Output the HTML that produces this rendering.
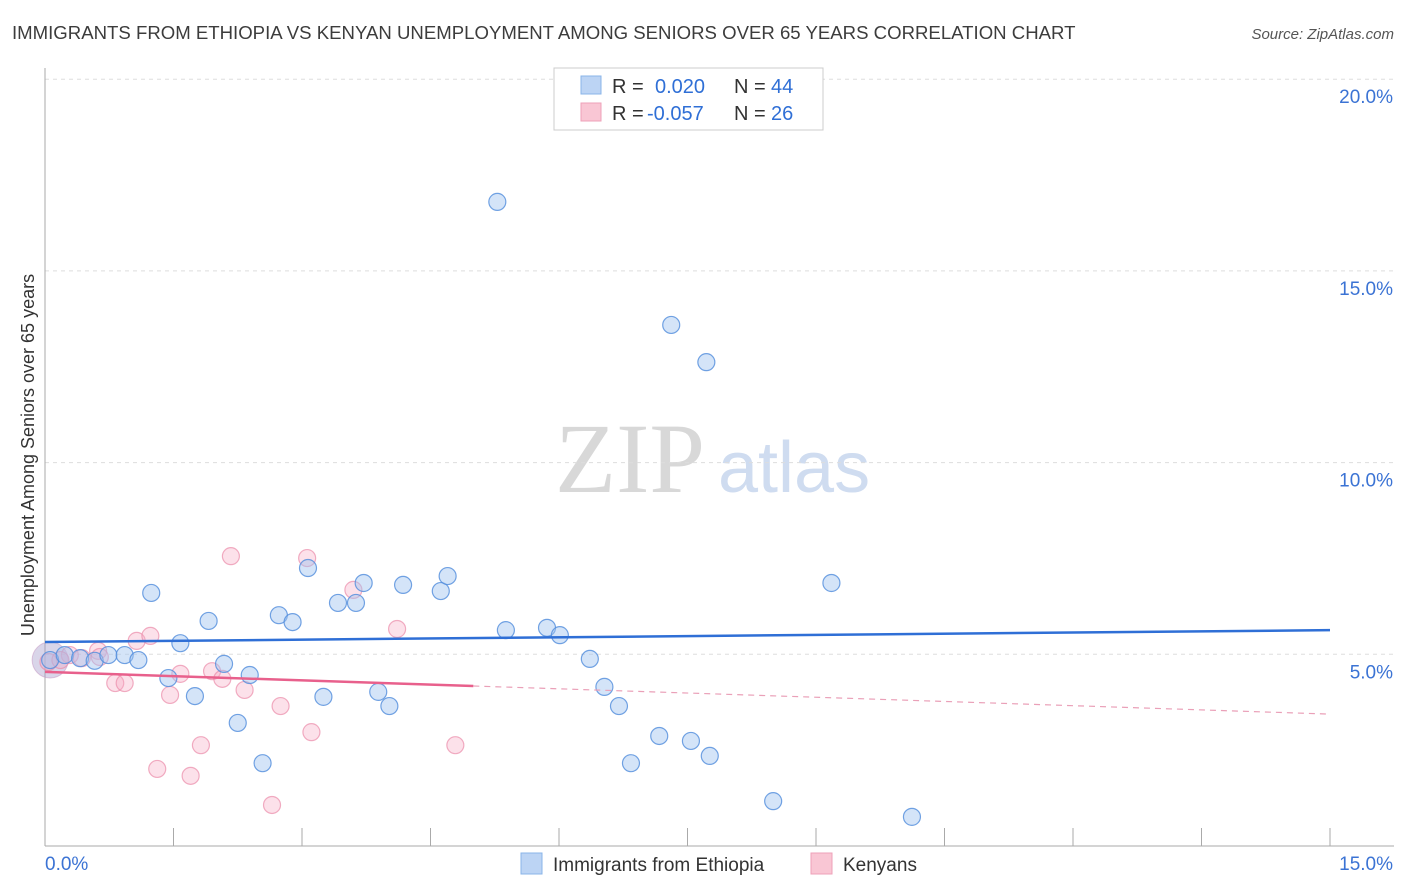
<!DOCTYPE html>
<html><head><meta charset="utf-8"><style>
body{margin:0;background:#fff;font-family:"Liberation Sans",sans-serif;}
svg{display:block}
</style></head><body>
<svg id="c" width="1406" height="892">
<text x="12" y="39" font-size="18.6" fill="#3c3c3c">IMMIGRANTS FROM ETHIOPIA VS KENYAN UNEMPLOYMENT AMONG SENIORS OVER 65 YEARS CORRELATION CHART</text>
<text x="1394" y="39" font-size="15" fill="#555" font-style="italic" text-anchor="end">Source: ZipAtlas.com</text>
<text x="555" y="492" font-size="100" fill="#d8d8d8" font-family="Liberation Serif,serif">ZIP</text>
<text x="718" y="492" font-size="72" fill="#cfdcf0">atlas</text>
<text transform="translate(34,455) rotate(-90)" font-size="18" fill="#333" text-anchor="middle">Unemployment Among Seniors over 65 years</text>
<g id="grid"></g><g id="marks"></g>
<g>
<rect x="554" y="68" width="269" height="62" fill="#fff" stroke="#ccc"/>
<rect x="581" y="76" width="20" height="18" fill="#bcd4f4" stroke="#8ab4e8"/>
<rect x="581" y="103" width="20" height="18" fill="#f9c6d4" stroke="#eea0b8"/>
<g font-size="20" fill="#333">
<text x="612" y="93">R =</text><text x="655" y="93" fill="#2f6fd6">0.020</text>
<text x="734" y="93">N =</text><text x="771" y="93" fill="#2f6fd6">44</text>
<text x="612" y="120">R =</text><text x="647" y="120" fill="#2f6fd6">-0.057</text>
<text x="734" y="120">N =</text><text x="771" y="120" fill="#2f6fd6">26</text>
</g>
</g>
<g>
<rect x="521" y="853" width="21" height="21" fill="#bcd4f4" stroke="#8ab4e8"/>
<text x="553" y="871" font-size="19" fill="#333">Immigrants from Ethiopia</text>
<rect x="811" y="853" width="21" height="21" fill="#f9c6d4" stroke="#eea0b8"/>
<text x="843" y="871" font-size="19" fill="#333">Kenyans</text>
</g>
</svg>
<script>
const blueX=[0.06,0.23,0.41,0.58,0.74,0.93,1.09,1.24,1.44,1.58,1.75,1.91,2.09,2.25,2.39,2.54,2.73,2.89,3.07,3.25,3.42,3.63,3.72,3.89,4.02,4.18,4.62,4.70,5.28,5.38,5.86,6.01,6.36,6.53,6.70,6.84,7.17,7.31,7.54,7.72,7.76,8.50,9.18,10.12];
const blueY=[4.85,4.98,4.90,4.83,4.98,4.98,4.85,6.60,4.38,5.29,3.91,5.87,4.75,3.21,4.46,2.16,6.02,5.84,7.25,3.89,6.34,6.34,6.86,4.02,3.65,6.81,6.65,7.04,16.80,5.63,5.69,5.50,4.88,4.15,3.65,2.16,2.87,13.59,2.74,12.62,2.35,1.17,6.86,0.76];
const pinkX=[0.04,0.29,0.43,0.62,0.82,0.93,1.07,1.23,1.31,1.46,1.58,1.70,1.82,1.95,2.07,2.17,2.33,2.65,2.75,3.06,3.11,3.60,4.11,4.79,0.64,0.18];
const pinkY=[4.80,4.98,4.90,5.09,4.25,4.25,5.35,5.48,2.01,3.94,4.49,1.83,2.63,4.56,4.36,7.56,4.07,1.07,3.65,7.51,2.97,6.68,5.66,2.63,4.93,4.85];
const blueTrend=[5.32,5.63];
const pinkTrend=[4.54,3.44];
const pinkSolidEnd=5.0;
const xTicks=[0,1.5,3,4.5,6,7.5,9,10.5,12,13.5,15];
const yTicks=[5,10,15,20];
const yTickLabels=["5.0%","10.0%","15.0%","20.0%"];
const sx=v=>45+v/15*1285, sy=v=>846-v/5*191.7;
const NS="http://www.w3.org/2000/svg";
function mk(t,a,p){const e=document.createElementNS(NS,t);for(const k in a)e.setAttribute(k,a[k]);p.appendChild(e);return e;}
const g=document.getElementById('grid'),m=document.getElementById('marks');
yTicks.forEach((v,i)=>{
const l=mk('line',{x1:45,x2:1394,y1:sy(v),y2:sy(v),stroke:'#ddd','stroke-dasharray':'4,4'},g);


const t=mk('text',{x:1393,y:sy(v)+24,'font-size':19,fill:'#3b73d4','text-anchor':'end'},g);t.textContent=yTickLabels[i];


});
mk('line',{x1:45,x2:45,y1:68,y2:846,stroke:'#aaa'},g);
mk('line',{x1:45,x2:1394,y1:846,y2:846,stroke:'#aaa'},g);
xTicks.forEach(v=>{const l=mk('line',{x1:sx(v),x2:sx(v),y1:828,y2:846,stroke:'#aaa'},g);

});
let t=mk('text',{x:45,y:870,'font-size':19,fill:'#3b73d4'},g);t.textContent='0.0%';
t=mk('text',{x:1393,y:870,'font-size':19,fill:'#3b73d4','text-anchor':'end'},g);t.textContent='15.0%';
let bc=mk('circle',{cx:sx(blueX[0]),cy:sy(blueY[0]),r:18,fill:'rgba(160,150,200,0.4)',stroke:'rgba(200,160,200,0.6)'},m);


pinkX.forEach((x,i)=>{const c=mk('circle',{cx:sx(x),cy:sy(pinkY[i]),r:8.5,fill:'rgba(245,170,195,0.35)',stroke:'rgba(235,140,170,0.7)','stroke-width':1.2},m);

});
blueX.forEach((x,i)=>{const c=mk('circle',{cx:sx(x),cy:sy(blueY[i]),r:8.5,fill:'rgba(160,195,240,0.45)',stroke:'rgba(80,140,220,0.8)','stroke-width':1.2},m);

});
const bl=mk('line',{x1:sx(0),y1:sy(blueTrend[0]),x2:sx(15),y2:sy(blueTrend[1]),stroke:'#2f6fd6','stroke-width':2.5},m);


const pe=pinkTrend[0]+(pinkTrend[1]-pinkTrend[0])*pinkSolidEnd/15;
const pl=mk('line',{x1:sx(0),y1:sy(pinkTrend[0]),x2:sx(pinkSolidEnd),y2:sy(pe),stroke:'#e8608c','stroke-width':2.5},m);


const pd=mk('line',{x1:sx(pinkSolidEnd),y1:sy(pe),x2:sx(15),y2:sy(pinkTrend[1]),stroke:'#eaa0b8','stroke-width':1.2,'stroke-dasharray':'6,5'},m);


</script>
</body></html>
